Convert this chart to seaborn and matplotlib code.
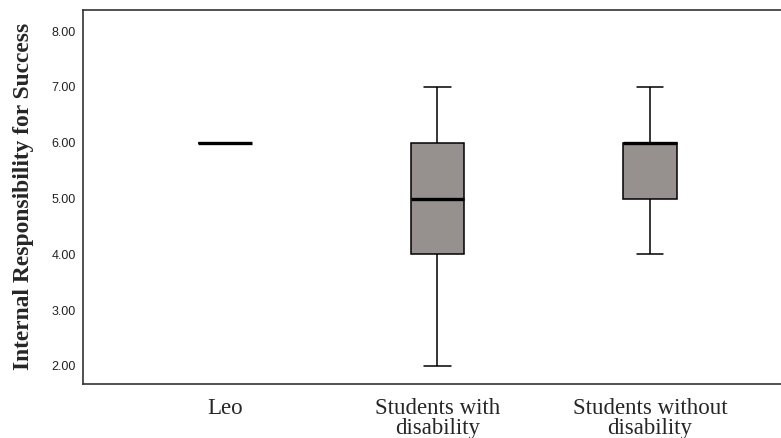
import matplotlib
matplotlib.use("Agg")
import matplotlib.pyplot as plt
import seaborn as sns
import pandas as pd

# Scores per group (Likert-type responses)
groups = ["Leo", "Students with\ndisability", "Students without\ndisability"]
leo_scores = [6]
with_disability_scores = [2, 4, 4, 5, 5, 6, 6, 7]
without_disability_scores = [4, 5, 5, 6, 6, 6, 6, 7]
y_ticks = [2, 3, 4, 5, 6, 7, 8]

rows = []
for g, vals in zip(groups, [leo_scores, with_disability_scores, without_disability_scores]):
    for v in vals:
        rows.append({"group": g, "score": v})
df = pd.DataFrame(rows)

sns.set_style("white")
fig = plt.figure(figsize=(7.81, 4.38), dpi=100)
ax = fig.add_axes([83 / 781, 1 - 383.5 / 438, 1 - 83 / 781, (383.5 - 9.5) / 438])

sns.boxplot(
    data=df, x="group", y="score", order=groups,
    color="#96918f", saturation=1, linecolor="black", linewidth=1.1,
    width=0.25, whis=1.5, showfliers=False,
    medianprops=dict(linewidth=2.4, color="black"),
    ax=ax,
)

ax.set_xlim(-(225 - 83) / 212.5, (781 - 225) / 212.5)
ax.set_ylim(2 - 17.5 / 55.83, 8 + 21.5 / 55.83)
ax.set_yticks(y_ticks)
ax.set_yticklabels([f"{t:.2f}" for t in y_ticks], fontsize=9,
                   fontfamily="Liberation Sans", color="#222222")
ax.set_xticks(range(len(groups)))
ax.set_xticklabels(groups, fontsize=16.5, fontfamily="Liberation Serif",
                   linespacing=0.92)
ax.tick_params(axis="both", length=0)
ax.tick_params(axis="y", pad=5)
ax.tick_params(axis="x", pad=10.5)

ax.set_xlabel("")
ax.set_ylabel("Internal Responsibility for Success", fontsize=16.9,
              fontweight="bold", fontfamily="Liberation Serif")
ax.yaxis.set_label_coords(-0.07, 0.5)

for side in ["top", "bottom", "left"]:
    ax.spines[side].set_color("#333333")
    ax.spines[side].set_linewidth(1.2)
ax.spines["right"].set_visible(False)

fig.savefig("out.png", dpi=100)
